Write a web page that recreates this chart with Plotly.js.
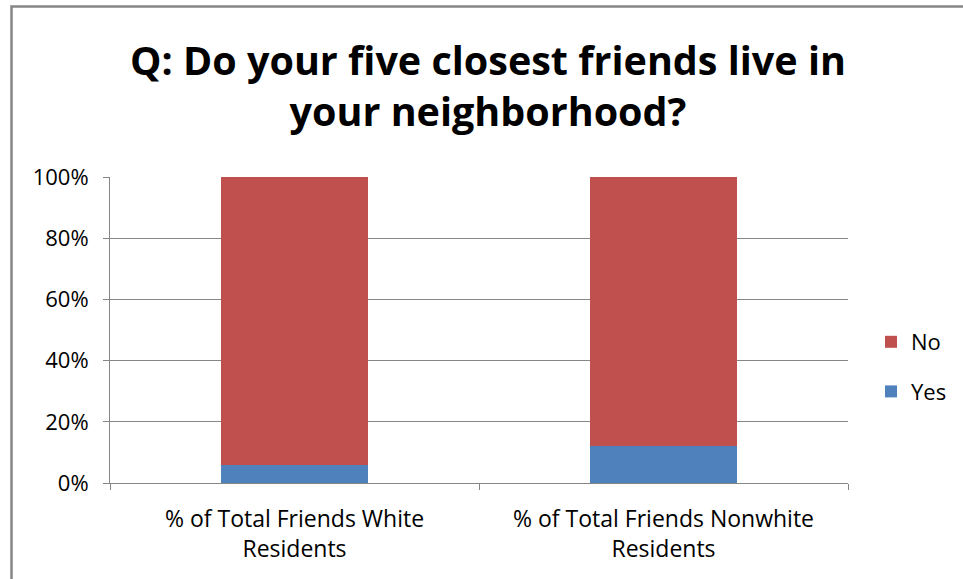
<!DOCTYPE html>
<html><head><meta charset="utf-8">
<script src="https://cdn.plot.ly/plotly-3.0.1.min.js"></script>
<style>html,body{margin:0;padding:0;background:#fff;}#chart{width:963px;height:579px;}</style>
</head><body><div id="chart"></div>
<script>
const categories = ["% of Total Friends White<br>Residents", "% of Total Friends Nonwhite<br>Residents"];
const yesValues = [0.06, 0.12];
const noValues = [0.94, 0.88];
const yTickVals = [0, 0.2, 0.4, 0.6, 0.8, 1.0];
const yTickText = ["0%", "20%", "40%", "60%", "80%", "100%"];

const W = 963, H = 579;
const m = {l:110, r:115, t:177, b:96, autoexpand:false};
const pw = W - m.l - m.r, ph = H - m.t - m.b;
const px = v => (v - m.l) / pw;
const py = v => (H - m.b - v) / ph;
const font = "'Open Sans', sans-serif";
const grey = '#868686';

const traces = [
  {type:'bar', name:'Yes', x:categories, y:yesValues, marker:{color:'#4F81BD'}, legendgroup:'a', legendrank:2, hoverinfo:'y'},
  {type:'bar', name:'No', x:categories, y:noValues, marker:{color:'#C0504D'}, legendgroup:'b', legendrank:1, hoverinfo:'y'}
];
const framePath = `M${px(11.5)},${py(579)} L${px(11.5)},${py(6.5)} L${px(963)},${py(6.5)}`;
const layout = {
  width:W, height:H,
  margin:m,
  barmode:'stack', bargap:0.6,
  paper_bgcolor:'#fff', plot_bgcolor:'#fff',
  font:{family:font, color:'#000', size:22},
  title:{text:'<b>Q: Do your five closest friends live in<br>your neighborhood?</b>', x:488/W, xanchor:'center', xref:'container', yref:'container', y:1-75/H, yanchor:'top', font:{size:39.5, family:font, color:'#000'}},
  xaxis:{showline:true, linecolor:grey, ticks:'outside', tickson:'boundaries', ticklen:6, tickcolor:grey, showgrid:false, tickfont:{size:23, color:'#000'}, ticklabelstandoff:15, fixedrange:true},
  yaxis:{range:[0,1], tickvals:yTickVals, ticktext:yTickText, showline:true, linecolor:grey, ticks:'outside', ticklen:6, tickcolor:grey, showgrid:true, gridcolor:grey, gridwidth:1, tickfont:{size:22, color:'#000'}, ticklabelstandoff:10, zeroline:false},
  legend:{x:px(871), xanchor:'left', y:py(321), yanchor:'top', traceorder:'grouped', tracegroupgap:18, font:{size:22, color:'#000'}, itemwidth:30},
  shapes:[{type:'path', path:framePath, xref:'paper', yref:'paper', line:{color:grey, width:2.5}}],
  showlegend:true
};
Plotly.newPlot('chart', traces, layout, {displayModeBar:false, staticPlot:true});
</script></body></html>
